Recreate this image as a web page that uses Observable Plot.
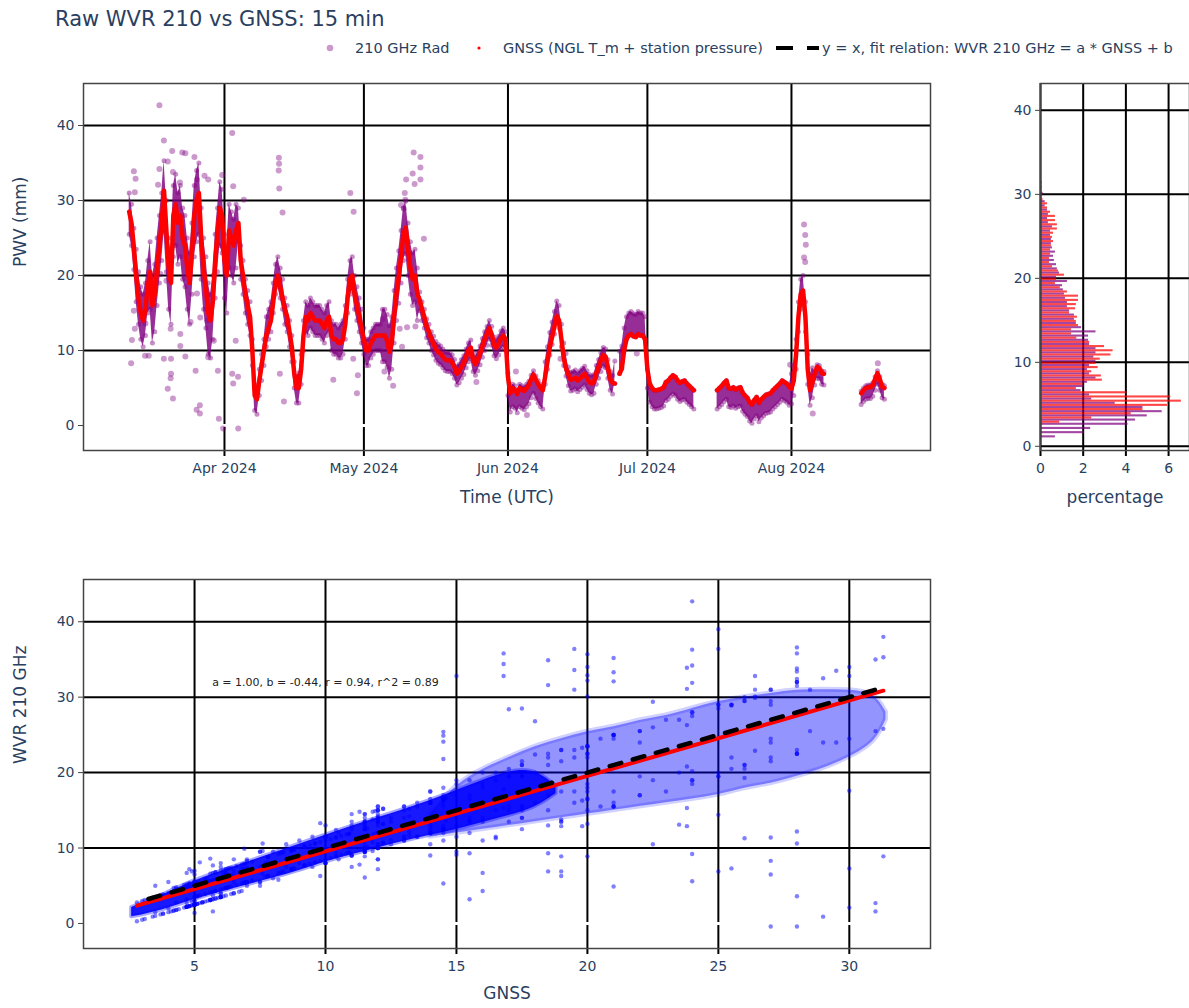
<!DOCTYPE html>
<html><head><meta charset="utf-8">
<script src="https://cdn.jsdelivr.net/npm/d3@7"></script>
<script src="https://cdn.jsdelivr.net/npm/@observablehq/plot@0.6"></script>
<style>
body{margin:0;background:#fff;font-family:"DejaVu Sans",sans-serif;}
#root{position:relative;width:1189px;height:1008px;overflow:hidden;background:#fff;}
#root > *{position:absolute;}
</style></head><body><div id="root"></div>
<script>
// ---------------- data ----------------
const titleText = "Raw WVR 210 vs GNSS: 15 min";
const legendLabels = ["210 GHz Rad", "GNSS (NGL T_m + station pressure)", "y = x, fit relation: WVR 210 GHz = a * GNSS + b"];

// GNSS PWV (mm), one value every 12 h starting at gnssStart; null = no data
const gnssStart = "2024-03-11T12:00:00Z";
const gnssStepHours = 12;
const gnssPWV = [
28.5,27,23.8,20,17,15,14,15.5,18.5,20.5,
16,17.5,21,24,27,31.3,26,21,19,28,
29.5,27,28,25,24,21,19,23,28,30,
31,25,21,18.5,15,14,16.5,22,25.5,29,
28,22,20,26,25,24,26,27,22,20,
17.5,16,14.5,10,4,3.5,6,8,10,12,
13,14,16.5,19,20,18.5,17,15.5,14.5,12.5,
10.5,7,5,5,7.5,12,14.5,14,15,14.5,
14,14,14,13.5,13,14,14.5,12,11.5,11.5,
11,11,11.5,13.5,17,19.5,20,17.5,16,14.5,
13,11.5,10,10,11,11.5,12,12,12,12,
12,11.3,9.8,11,14.5,17.5,19.8,22.5,25.5,26.4,
23.5,21,19.5,20,17.5,16.8,15.5,14.5,13.2,12.5,
11.5,10.9,10.2,9.8,9.6,9.2,8.8,8.7,8.7,8.4,
7.8,6.9,7.2,7.8,8.3,9.2,10,10.4,8.7,8.2,
8.8,9.6,10.6,11.5,12.2,13,12.2,10.8,10.4,10.9,
11.6,12,11.5,6.5,4.3,5,4.8,4.2,5,4.8,
4.6,5,5.4,6.2,6.8,6.1,5.5,5,4.7,6.5,
8.5,10.4,11.8,13.2,14.6,14,11.5,9,7.6,6.8,
6.1,6.2,6.4,6,6.3,6.6,6.9,6.3,5.8,5.6,
5.8,7,7.8,8.7,9.4,9.2,7.8,6.2,5.7,5.6,
null,6.9,7.6,10,11.5,12,12.2,11.9,11.8,12.2,
12,12,11.5,7.5,5.6,5,4.7,4.7,4.8,4.9,
5.1,5.8,6,6.4,6.7,6.5,6,5.7,5.9,6,
5.6,5.3,5,4.7,null,null,null,null,null,null,
null,null,null,4.7,5,5.3,5.7,6,5,4.9,
5.1,4.8,5,5.1,4.4,4,3.7,3.1,2.8,3.4,
3.8,3.0,3.5,3.8,4.1,4.2,4.3,4.7,5,5.3,
5.6,6,5.8,5.6,5.2,4.9,6,9.5,14.5,17.5,
18,14.5,7.5,4.7,5.7,6.9,7.8,7.7,7,6.9,
null,null,null,null,null,null,null,null,null,null,
null,null,null,null,null,4.3,4.7,5,5.1,5.1,
5.4,6.2,7,6.2,5.2,5
];

// spread of the dense 210 GHz cloud around the GNSS curve (mm), per period
const bandStart = ["2024-03-11","2024-03-13","2024-03-16","2024-03-19","2024-03-29","2024-04-04","2024-04-07","2024-04-10","2024-04-14","2024-04-17","2024-04-26","2024-05-01","2024-05-05","2024-05-13","2024-06-01","2024-06-09","2024-06-14","2024-06-24","2024-07-01","2024-07-16","2024-08-01","2024-08-06"];
const wvrBelow  = [3,3.5,5,5.5,5,2.5,2,1.5,2,2,2,2,3.5,1.5,2.5,1,1.5,0,2.5,2.5,2,1.5];
const wvrAbove  = [2.5,3.5,4,4,3.5,2,1.5,2.5,1.5,2,2.5,1.5,3.5,1,0.5,2,1,3,0,0,2,0.3];

// isolated 210 GHz points (time, PWV mm)
const outlierTime = ["03-18T00","03-18T23","04-02T16","03-20T18","03-19T19","03-22T22","03-23T14","03-25T13","03-12T12","03-12T21",
"03-18T00","03-20T22","03-22T10","03-26T02","03-28T12","03-27T17","03-31T12","04-02T21","04-05T04","04-12T17",
"04-12T18","04-12T16","04-12T19","04-13T12","04-28T02","04-28T19","03-12T17","03-17T17","03-12T17","03-11T22",
"03-12T02","03-14T22","03-15T17","03-18T23","03-20T12","03-20T12","03-20T10","03-19T19","03-20T22","03-22T12",
"03-23T14","03-25T19","03-26T00","03-26T17","03-26T17","03-28T12","03-30T19","03-31T17","03-30T14","04-02T16",
"04-02T21","04-03T23","04-03T22","04-03T10","04-12T22","04-13T19","04-24T10","04-29T12","04-29T17","04-28T17",
"03-20T10","03-22T12","03-24T17","03-29T17","03-12T12","03-15T00","03-18T05","03-19T12","03-28T07","03-26T02",
"03-26T19","05-11T17","05-13T04","05-10T02","05-11T12","05-13T04","05-11T22","05-13T04","05-09T19","05-09T22",
"05-09T00","05-09T14","05-13T22","05-09T05","05-07T07","05-05T10","05-05T02","05-08T17","05-10T07","05-12T02",
"05-25T05","06-05T02","06-12T07","06-28T17","06-02T17","08-03T17","08-03T23","08-04T02","08-03T17","08-03T23",
"07-31T17","08-05T14","08-19T14"];
const outlierPWV = [42.7,38.0,39.0,36.6,35.2,36.4,36.3,35.8,33.9,32.9,
34.2,33.8,32.4,32.8,32.8,33.3,33.4,31.9,30.1,35.7,
34.9,34.0,31.6,28.4,31.0,28.5,31.1,32.1,12.9,8.3,
11.4,9.3,9.3,8.9,8.9,6.9,6.3,4.9,3.6,10.6,
9.2,7.3,2.1,2.7,1.6,9.1,0.9,-0.4,7.3,6.9,
5.6,-0.4,6.5,11.3,6.9,3.2,6.1,4.3,6.7,8.9,
12.9,12.2,13.8,11.3,15.3,13.6,20.2,19.3,14.0,17.6,
14.4,36.4,35.8,32.8,33.6,34.4,32.2,32.8,31.0,30.1,
29.4,28.9,24.9,10.5,5.3,7.2,14.2,12.9,13.1,13.2,
5.8,1.4,8.9,9.6,7.2,26.8,25.4,24.1,22.4,21.8,
8.1,1.6,8.3];

// scatter panel: envelope of the dense WVR-vs-GNSS core and of the wider cloud (mm)
const coreGnss = [2.6,3,4,5,6,7,8,9,10,11,12,13,14,15,16,17,18,18.8];
const coreLo   = [0.9,1.1,2.0,3.2,4.2,5.1,6.0,7.0,8.2,9.1,10.0,10.9,11.7,12.4,13.4,14.3,15.3,17.2];
const coreHi   = [2.1,2.7,4.1,5.7,6.9,8.1,9.3,10.5,11.7,12.9,14.0,15.1,16.3,17.6,19.0,20.2,20.5,18.2];
const cloudGnss = [14,15,16,17,18,19,20,21,22,23,24,25,26,27,28,29,30,31,31.4];
const cloudLo   = [11.5,12,12.5,13,13.5,14,14.5,15,15.5,16,16.5,17,18,18.5,19.5,20.5,22,24,27];
const cloudHi   = [14.5,18.5,20.5,22,23.5,24.5,25.5,26,27,27.5,28.5,29.5,30,30.5,31,31,31,30.5,28];

// histograms: percent of samples per 0.5 mm bin (bin k = [0.5k, 0.5k+0.5))
const histBinWidth = 0.5;
const histWVR = [0,0.03,0.7,2.05,2.35,4.1,4.45,5.0,5.7,4.8,
3.5,2.4,2.3,1.9,2.04,2.2,2.6,2.3,2.2,2.3,
2.6,2.5,2.6,2.6,2.3,2.25,2.25,2.6,1.92,1.68,
1.59,1.59,1.36,1.26,1.26,1.17,1.12,1.07,1.03,1.26,
0.75,0.89,0.79,0.75,0.65,0.61,0.7,0.56,0.51,0.51,
0.47,0.47,0.56,0.37,0.33,0.37,0.33,0.22,0.22,0.06,
0.12,0.06,0.04,0.03,0.05,0.03,0.03,0.04,0.02,0.03,
0.03,0.03,0.02];
const histGNSS = [0,0,0,0,0,0.9,2.4,4.25,4.8,5.95,
6.6,6.1,4.05,1.68,2.0,2.9,2.85,2.4,2.7,2.6,
2.8,3.3,3.4,3.0,2.3,1.7,1.45,1.45,1.78,1.68,
1.73,1.36,1.64,1.68,1.78,1.78,1.26,0.93,0.7,0.75,
1.12,0.84,0.56,0.42,0.42,0.47,0.47,0.51,0.61,0.56,
0.61,0.79,0.79,0.7,0.7,0.47,0.33,0.33,0.12,0.1,
0.06,0.09,0.09];

// linear fit WVR = a * GNSS + b
const fitA = 1.00, fitB = -0.44;
const fitLabel = "a = 1.00, b = -0.44, r = 0.94, r^2 = 0.89";
const fitLabelAt = [10, 32];

// ticks
const timeTicks = ["2024-04-01","2024-05-01","2024-06-01","2024-07-01","2024-08-01"];
const timeTickLabels = ["Apr 2024","May 2024","Jun 2024","Jul 2024","Aug 2024"];
const pwvTicks = [0,10,20,30,40];
const gnssTicks = [5,10,15,20,25,30];
const pctTicks = [0,2,4,6];
const axisTitles = {pwv: "PWV (mm)", time: "Time (UTC)", pct: "percentage", gnss: "GNSS", wvr: "WVR 210 GHz"};

// ---------------- build ----------------
const FONT = '"DejaVu Sans", sans-serif';
const TXT = "#2a3f5f";
const rootEl = document.getElementById("root");

const t0 = Date.parse(gnssStart);
const stepMs = gnssStepHours * 3600e3;
const segStarts = bandStart.map(s => Date.parse(s + "T00:00:00Z"));
const samples = gnssPWV.map((g, j) => {
  const t = t0 + j * stepMs;
  const k = Math.max(0, d3.bisectRight(segStarts, t) - 1);
  const ok = g != null;
  return {t: new Date(t), g: ok ? g : NaN, lo: ok ? g - wvrBelow[k] : NaN, hi: ok ? g + wvrAbove[k] : NaN};
});
const outliers = outlierTime.map((s, i) => {
  const t = Date.parse("2024-" + s + ":00:00Z");
  const j = Math.round((t - t0) / stepMs);
  const g = gnssPWV[Math.max(0, Math.min(gnssPWV.length - 1, j))];
  return {t: new Date(t), v: outlierPWV[i], g: g == null ? NaN : g};
});
const tickDates = timeTicks.map(s => new Date(s + "T00:00:00Z"));
const tickLabelMap = new Map(tickDates.map((d, i) => [+d, timeTickLabels[i]]));

const gridStyle = {stroke: "#000", strokeOpacity: 1, strokeWidth: 2};
const baseStyle = {fontFamily: FONT, fontSize: "14px", color: TXT, background: "transparent", overflow: "visible"};

// ----- top: time series -----
const tsPlot = Plot.plot({
  width: 960, height: 470, marginLeft: 83, marginRight: 30, marginTop: 23, marginBottom: 80,
  style: baseStyle,
  x: {type: "utc", domain: [new Date("2024-03-01T16:00:00Z"), new Date("2024-08-30T22:00:00Z")]},
  y: {domain: [-3.33, 45.6]},
  marks: [
    Plot.gridX(tickDates, gridStyle),
    Plot.gridY(pwvTicks.filter(v => v !== 0), gridStyle),
    Plot.ruleY([0], {stroke: "#fff", strokeWidth: 3}),
    Plot.axisX(tickDates, {tickSize: 6, stroke: "#000", strokeWidth: 2, tickPadding: 7, fontSize: 14, fill: TXT, label: null, tickFormat: d => tickLabelMap.get(+d)}),
    Plot.axisY(pwvTicks, {tickSize: 5, stroke: "#444", tickPadding: 4, fontSize: 14, fill: TXT, label: null}),
    Plot.dot(outliers, {x: "t", y: "v", r: 3, fill: "purple", fillOpacity: 0.4, stroke: "none"}),
    Plot.areaY(samples, {x: "t", y1: "lo", y2: "hi", fill: "purple", fillOpacity: 0.82}),
    Plot.dot(samples, {x: "t", y: "lo", r: 2.5, fill: "purple", fillOpacity: 0.45, stroke: "none"}),
    Plot.dot(samples, {x: "t", y: "hi", r: 2.5, fill: "purple", fillOpacity: 0.45, stroke: "none"}),
    Plot.line(samples, {x: "t", y: "g", stroke: "red", strokeWidth: 4.5}),
    Plot.frame({stroke: "#444", strokeWidth: 1.5}),
    Plot.text([axisTitles.pwv], {text: d => d, frameAnchor: "left", dx: -63, rotate: -90, fontSize: 17, fill: TXT}),
    Plot.text([axisTitles.time], {text: d => d, frameAnchor: "bottom", dy: 52, fontSize: 17, fill: TXT})
  ]
});
tsPlot.style.left = "0px"; tsPlot.style.top = "60px";
rootEl.appendChild(tsPlot);

// ----- right: histogram -----
const histRows = [];
histWVR.forEach((p, k) => histRows.push({y1: k * histBinWidth, y2: k * histBinWidth + histBinWidth / 2, p, c: "purple"}));
histGNSS.forEach((p, k) => histRows.push({y1: k * histBinWidth + histBinWidth / 2, y2: (k + 1) * histBinWidth, p, c: "red"}));
const histPlot = Plot.plot({
  width: 204, height: 470, marginLeft: 55, marginRight: 0, marginTop: 23, marginBottom: 80,
  style: baseStyle,
  x: {domain: [0, 6.98]},
  y: {domain: [-0.5, 43.2]},
  marks: [
    Plot.gridX(pctTicks, gridStyle),
    Plot.gridY(pwvTicks, gridStyle),
    Plot.rectX(histRows.filter(d => d.p > 0), {x1: 0, x2: "p", y1: "y1", y2: "y2", fill: d => d.c, fillOpacity: 0.72, inset: 0}),
    Plot.axisX(pctTicks, {tickSize: 6, stroke: "#000", strokeWidth: 2, tickPadding: 7, fontSize: 14, fill: TXT, label: null}),
    Plot.axisY(pwvTicks, {tickSize: 5, stroke: "#444", tickPadding: 4, fontSize: 14, fill: TXT, label: null}),
    Plot.frame({stroke: "#444", strokeWidth: 1.5}),
    Plot.text([axisTitles.pct], {text: d => d, frameAnchor: "bottom", dy: 52, fontSize: 17, fill: TXT})
  ]
});
histPlot.style.left = "985px"; histPlot.style.top = "60px";
rootEl.appendChild(histPlot);

// ----- bottom: scatter -----
const valid = samples.filter(s => !isNaN(s.g));
const pts = valid.flatMap(s => [{x: s.g, y: s.lo}, {x: s.g, y: s.hi}]);
const outPts = outliers.filter(o => !isNaN(o.g)).map(o => ({x: o.g, y: o.v}));
const gExt = d3.extent(valid, s => s.g);
const fitLine = gExt.map(x => ({x, y: fitA * x + fitB}));
const idLine = gExt.map(x => ({x, y: x}));
const coreRows = coreGnss.map((g, i) => ({g, lo: coreLo[i], hi: coreHi[i]}));
const cloudRows = cloudGnss.map((g, i) => ({g, lo: cloudLo[i], hi: cloudHi[i]}));
const scatPlot = Plot.plot({
  width: 960, height: 448, marginLeft: 83, marginRight: 30, marginTop: 19, marginBottom: 60,
  style: baseStyle,
  x: {domain: [0.76, 33.1]},
  y: {domain: [-3.32, 45.6]},
  marks: [
    Plot.gridX(gnssTicks, gridStyle),
    Plot.gridY(pwvTicks.filter(v => v !== 0), gridStyle),
    Plot.ruleY([0], {stroke: "#fff", strokeWidth: 3}),
    Plot.axisX(gnssTicks, {tickSize: 6, stroke: "#000", strokeWidth: 2, tickPadding: 7, fontSize: 14, fill: TXT, label: null}),
    Plot.axisY(pwvTicks, {tickSize: 5, stroke: "#444", tickPadding: 4, fontSize: 14, fill: TXT, label: null}),
    Plot.areaY(cloudRows, {x: "g", y1: "lo", y2: "hi", fill: "blue", fillOpacity: 0.42, stroke: "blue", strokeOpacity: 0.18, strokeWidth: 5, curve: "basis"}),
    Plot.areaY(coreRows, {x: "g", y1: "lo", y2: "hi", fill: "blue", fillOpacity: 0.9, stroke: "blue", strokeOpacity: 0.35, strokeWidth: 4, curve: "basis"}),
    Plot.dot(pts, {x: "x", y: "y", r: 2.2, fill: "blue", fillOpacity: 0.5, stroke: "none"}),
    Plot.dot(outPts, {x: "x", y: "y", r: 2.2, fill: "blue", fillOpacity: 0.5, stroke: "none"}),
    Plot.line(fitLine, {x: "x", y: "y", stroke: "red", strokeWidth: 4}),
    Plot.line(idLine, {x: "x", y: "y", stroke: "#000", strokeWidth: 4.5, strokeDasharray: "12,12", strokeDashoffset: 12}),
    Plot.text([fitLabel], {text: d => d, x: () => fitLabelAt[0], y: () => fitLabelAt[1], fontSize: 11, fill: "#222"}),
    Plot.frame({stroke: "#444", strokeWidth: 1.5}),
    Plot.text([axisTitles.wvr], {text: d => d, frameAnchor: "left", dx: -63, rotate: -90, fontSize: 17, fill: TXT}),
    Plot.text([axisTitles.gnss], {text: d => d, frameAnchor: "bottom", dy: 50, fontSize: 17, fill: TXT})
  ]
});
scatPlot.style.left = "0px"; scatPlot.style.top = "560px";
rootEl.appendChild(scatPlot);

// ----- title + legend -----
const head = d3.create("svg").attr("width", 1189).attr("height", 70)
  .style("left", "0px").style("top", "0px").style("font-family", FONT);
head.append("text").attr("x", 55).attr("y", 26).attr("font-size", 21).attr("fill", TXT).text(titleText);
head.append("circle").attr("cx", 330).attr("cy", 48).attr("r", 3.3).attr("fill", "purple").attr("fill-opacity", 0.4);
head.append("text").attr("x", 355).attr("y", 53).attr("font-size", 14.5).attr("fill", TXT).text(legendLabels[0]);
head.append("circle").attr("cx", 479).attr("cy", 48).attr("r", 1.6).attr("fill", "red");
head.append("text").attr("x", 503).attr("y", 53).attr("font-size", 14.5).attr("fill", TXT).text(legendLabels[1]);
head.append("line").attr("x1", 776).attr("x2", 819).attr("y1", 48).attr("y2", 48)
  .attr("stroke", "#000").attr("stroke-width", 4).attr("stroke-dasharray", "17,14");
head.append("text").attr("x", 822).attr("y", 53).attr("font-size", 14.5).attr("fill", TXT).text(legendLabels[2]);
rootEl.appendChild(head.node());
</script></body></html>
